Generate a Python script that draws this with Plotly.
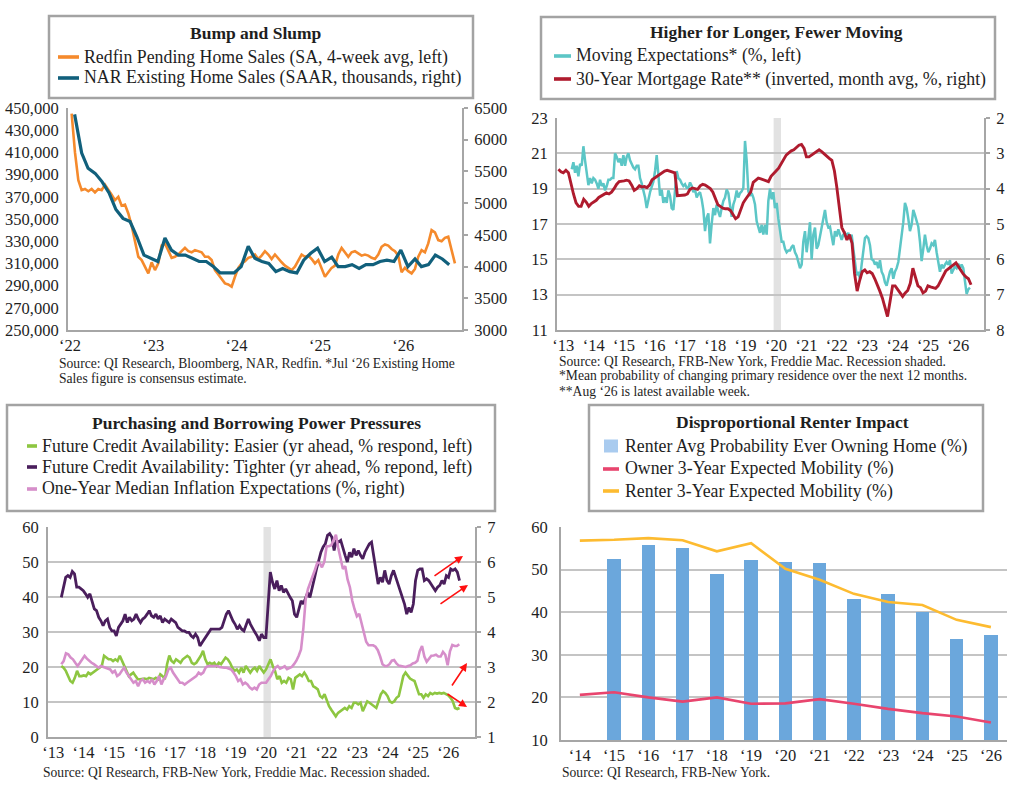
import pandas as pd
import plotly.graph_objects as go

W, H = 1024, 794
FONT = "Liberation Serif"
TEXT = "#1e1e1e"
AXIS_GRAY = "#A6A6A6"
GRID_GRAY = "#C4C4C4"
BOX_GRAY = "#A3A3A3"
Q = "\u2018"

# ---------------- Panel 1: Bump and Slump ----------------
redfin_pending = [
    445000, 410000, 385000, 376000, 377000, 375000, 377000, 374000, 377000, 376000,
    381000, 377000, 372000, 367000, 370000, 362000, 363000, 355000, 344000, 330000,
    316000, 313000, 307000, 301000, 311000, 304000, 310000, 326000, 328000, 322000,
    315000, 316000, 318000, 321000, 324000, 321000, 320000, 322000, 321000, 320000,
    316000, 316000, 313000, 304000, 300000, 296000, 292000, 291000, 289000, 298000,
    306000, 310000, 312000, 315000, 316000, 318000, 314000, 317000, 321000, 318000,
    314000, 318000, 314000, 311000, 308000, 306000, 304000, 307000, 313000, 318000,
    316000, 317000, 314000, 310000, 313000, 306000, 298000, 302000, 306000, 308000,
    318000, 324000, 320000, 316000, 320000, 321000, 319000, 317000, 318000, 317000,
    315000, 314000, 318000, 325000, 327000, 326000, 323000, 321000, 317000, 302000,
    306000, 303000, 301000, 305000, 316000, 322000, 320000, 328000, 340000, 338000,
    331000, 330000, 333000, 334000, 322000, 310000,
]
nar_existing = [
    6400, 5790, 5550, 5470, 5340, 5160, 4900, 4760, 4710, 4470,
    4180, 4130, 4080, 4450, 4260, 4180, 4180, 4130, 4080, 4080,
    4000, 3900, 3900, 3900, 4000, 4320, 4130, 4080, 4050, 3920,
    3970, 3920, 3900, 4100, 4210, 4290, 4080, 4150, 4000, 4000,
    4030, 3970, 4030, 4030, 4080, 4100, 4080, 4260, 4000, 4120,
    4000, 4030, 4180, 4120, 4030,
]
p1_years = [2022, 2023, 2024, 2025, 2026]

# ---------------- Panel 2: Higher for Longer ----------------
moving_expect = [
    20.1, 20.5, 19.9, 20.3, 19.7, 20.4, 20.3, 21.4, 20.6, 19.9,
    19.2, 19.6, 19.3, 19.6, 19.5, 19.3, 19.0, 19.5, 19.15, 19.3,
    18.9, 19.15, 19.5, 19.5, 19.6, 19.6, 21.0, 20.8, 20.5, 20.7,
    20.3, 20.9, 20.3, 20.8, 21.0, 20.6, 20.4, 20.2, 20.1, 20.3,
    20.3, 19.6, 19.3, 18.9, 18.5, 17.9, 18.4, 18.8, 19.1, 19.4,
    20.0, 20.9, 19.8, 18.6, 18.95, 18.2, 18.5, 18.2, 18.9, 18.6,
    17.9, 17.8, 18.9, 20.0, 19.6, 19.5, 19.3, 19.15, 19.25, 19.05,
    19.05, 19.35, 19.15, 18.8, 18.95, 18.5, 18.7, 18.8, 18.4, 17.8,
    16.6, 17.35, 17.6, 15.9, 17.0, 17.9, 17.5, 18.1, 17.7, 17.4,
    17.9, 18.3, 18.5, 18.95, 18.75, 17.9, 17.4, 18.1, 18.4, 18.9,
    18.5, 18.75, 18.85, 19.05, 21.7, 20.6, 18.85, 18.6, 18.75, 18.5,
    18.1, 17.15, 16.8, 16.5, 16.95, 16.4, 16.95, 16.4, 18.3, 19.0,
    18.4, 18.8, 17.9, 18.2, 17.3,
    16.6, 16.0, 16.0, 15.6, 15.4, 15.5, 15.5, 15.7, 15.8, 15.4,
    15.2, 14.8, 14.5, 14.7, 16.0, 16.6, 15.4, 16.2, 17.1, 15.0,
    16.4, 16.8, 15.6, 15.8, 16.4, 16.8, 17.3, 17.8, 17.1, 16.8,
    16.85, 16.2, 15.8, 16.6, 16.3, 16.7, 16.4, 16.1, 16.4, 16.5,
    16.3, 16.5, 16.1, 16.4, 15.6, 14.7, 14.1, 14.3, 13.9, 14.7,
    15.6, 16.2, 16.3, 16.2, 15.8, 15.0, 14.95, 14.7, 14.85, 14.5,
    14.95, 14.3, 14.1, 13.7, 13.5, 13.9, 14.3, 14.5, 13.9, 14.3,
    14.5, 14.85, 15.6, 16.4, 17.1, 18.2, 17.9, 17.3, 16.6, 16.95,
    17.8, 17.5, 17.2, 16.85, 16.0, 14.9, 15.6, 16.4, 15.8, 15.4,
    15.6, 15.9, 15.8, 16.1, 15.4, 14.7, 14.3, 14.7, 14.5, 14.7,
    14.85, 14.7, 14.95, 14.2, 14.4, 14.6, 14.5, 14.75, 14.5, 14.7,
    14.5, 13.8, 13.04, 13.3, 13.4,
]
mortgage_rate = [
    3.45, 3.52, 3.55, 3.48, 3.55, 3.9, 4.15, 4.4, 4.5, 4.5,
    4.3, 4.38, 4.5, 4.42, 4.38, 4.33, 4.25, 4.2, 4.15, 4.12,
    4.15, 4.1, 4.0, 3.88, 3.8, 3.8, 3.78, 3.76, 3.78, 3.9,
    4.05, 4.0, 3.92, 3.95, 3.94, 3.97, 3.9, 3.75, 3.7, 3.66,
    3.62, 3.56, 3.5, 3.48, 3.5, 3.52, 3.55, 4.2, 4.2, 4.2,
    4.18, 4.15, 4.02, 3.98, 4.0, 4.02, 3.92, 3.88, 3.9, 3.95,
    4.0, 4.1, 4.28, 4.45, 4.5, 4.55, 4.57, 4.57, 4.62, 4.75,
    4.85, 4.8, 4.6, 4.4, 4.3, 4.2, 4.1, 3.82, 3.75, 3.7,
    3.72, 3.74, 3.78, 3.8, 3.65, 3.56, 3.5, 3.42, 3.3, 3.18,
    3.05, 2.99, 2.93, 2.9, 2.82, 2.77, 2.75, 2.86, 3.1, 3.1,
    3.05, 3.0, 2.93, 2.9, 2.95, 3.02, 3.07, 3.14, 3.2, 3.5,
    3.95, 4.5, 5.1, 5.25, 5.45, 5.3, 5.55, 6.4, 6.9, 6.6,
    6.35, 6.3, 6.38, 6.35, 6.4, 6.55, 6.75, 6.9, 7.1, 7.35,
    7.62, 7.2, 6.75, 6.75, 6.85, 6.95, 7.05, 6.95, 6.88, 6.68,
    6.25, 6.5, 6.75, 6.8, 6.95, 6.9, 6.75, 6.78, 6.8, 6.82,
    6.75, 6.62, 6.45, 6.33, 6.27, 6.22, 6.16, 6.1, 6.2, 6.32,
    6.42, 6.5, 6.55, 6.72,
]
long_years = list(range(2013, 2027))

# ---------------- Panel 3: Purchasing and Borrowing Power ----------------
credit_tighter = [
    39.9, 43.3, 45.6, 46.1, 45.6, 47.3, 46.6, 42.8, 42.8, 42.3,
    41.8, 40.9, 39.9, 40.9, 38.9, 36.6, 36.1, 34.2, 33.2, 31.8,
    33.2, 33.7, 31.3, 30.3, 30.3, 28.9, 31.3, 32.2, 33.2, 35.1,
    32.7, 34.2, 33.2, 33.7, 35.1, 33.7, 32.7, 33.7, 34.2, 35.1,
    36.1, 34.6, 34.2, 35.1, 33.7, 34.6, 32.7, 33.7, 33.2, 32.7,
    33.7, 33.2, 32.7, 31.3, 30.8, 30.3, 30.3, 29.9, 29.9, 28.9,
    28.4, 29.4, 28.4, 26.0, 27.0, 27.9, 28.9, 29.9, 30.8, 30.8,
    30.8, 30.8, 30.8, 31.3, 33.2, 35.1, 36.1, 34.6, 33.2, 32.2,
    30.8, 31.8, 30.8, 30.3, 31.8, 33.7, 32.2, 30.8, 29.9, 28.9,
    27.5, 29.4, 28.4, 28.4, 38.9,
    47.1, 44.2, 42.3, 44.7, 41.8, 43.3, 41.3, 42.3, 40.9, 39.9,
    38.9, 35.1, 34.2, 37.0, 38.9, 38.0, 39.4, 41.3, 39.9, 42.3,
    45.2, 48.0, 50.4, 52.8, 54.3, 55.2, 57.6, 58.1, 57.1, 53.3,
    56.2, 55.7, 56.2, 53.8, 51.9, 50.0, 52.8, 51.4, 53.8, 51.9,
    53.3, 51.9, 50.9, 52.8, 53.8, 55.2, 55.7, 51.9, 48.0, 43.7,
    45.6, 44.2, 47.6, 44.7, 43.7, 46.1, 47.6, 45.6, 43.3, 41.8,
    39.9, 38.0, 35.1, 37.0, 35.6, 38.0, 44.7, 47.6, 48.0, 48.0,
    44.7, 45.2, 44.7, 43.7, 42.8, 41.8, 42.8, 43.3, 44.7, 43.7,
    46.1, 45.6, 48.0, 47.6, 48.0, 47.1, 44.7,
]
credit_easier = [
    20.3, 19.8, 18.9, 17.4, 16.0, 15.5, 16.9, 18.9, 17.4, 17.4,
    17.6, 17.4, 18.4, 17.9, 18.4, 18.9, 19.3, 19.8, 20.3, 23.2,
    22.7, 22.2, 22.2, 21.7, 22.2, 21.7, 23.2, 21.7, 20.3, 18.9,
    17.4, 17.9, 18.4, 17.4, 16.5, 16.5, 16.7, 16.7, 16.5, 16.9,
    16.7, 16.5, 16.9, 16.5, 17.9, 17.4, 16.5, 20.8, 23.3, 21.7,
    21.2, 22.2, 21.7, 21.2, 22.2, 22.7, 23.2, 22.7, 21.2, 20.8,
    21.2, 22.2, 23.2, 24.6, 22.2, 20.8, 21.2, 20.8, 21.2, 20.3,
    21.2, 20.8, 21.7, 22.7, 22.2, 21.2, 19.8, 18.9, 19.3, 18.4,
    19.8, 18.4, 20.3, 19.3, 18.4, 19.3, 19.8, 18.9, 20.3, 19.3,
    18.4, 19.3, 20.8, 22.2,
    20.3, 18.9, 16.5, 17.4, 15.5, 16.0, 15.5, 16.9, 16.5, 13.6,
    16.9, 17.4, 17.9, 17.4, 18.4, 17.4, 16.0, 16.0, 14.5, 14.1,
    13.6, 11.7, 11.2, 12.2, 10.2, 8.8, 7.8, 6.9, 5.9, 6.9,
    7.4, 7.8, 8.3, 7.8, 8.8, 8.3, 9.8, 9.8, 9.3, 9.8,
    7.4, 8.8, 10.2, 9.8, 9.3, 8.8, 8.3, 10.2, 12.2, 13.1,
    12.6, 11.7, 10.2, 9.8, 10.2, 11.2, 11.7, 14.5, 17.4, 18.4,
    17.4, 16.7, 16.3, 16.0, 14.1, 12.2, 12.2, 11.2, 12.2, 11.7,
    12.6, 12.2, 12.6, 12.4, 12.6, 12.4, 12.6, 12.2, 11.9, 11.2,
    10.2, 8.3, 8.0, 8.3,
]
inflation_expect = [
    3.08, 3.17, 3.39, 3.36, 3.27, 3.22, 3.12, 3.03, 3.12, 3.22,
    3.32, 3.24, 3.17, 3.12, 3.08, 3.03, 2.98, 3.03, 3.0, 2.98,
    2.95, 2.93, 2.84, 2.89, 2.74, 2.79, 2.89, 2.98, 2.84, 2.74,
    2.65, 2.55, 2.60, 2.45, 2.60, 2.65, 2.55, 2.60, 2.55, 2.65,
    2.50, 2.60, 2.74, 2.50, 2.65, 2.74, 2.93, 2.98, 2.84, 2.74,
    2.65, 2.55, 2.55, 2.50, 2.55, 2.60, 2.65, 2.69, 2.74, 2.84,
    2.79, 2.84, 2.98, 3.03, 3.03, 3.03, 3.03, 3.03, 3.0, 2.98,
    2.98, 2.98, 2.95, 2.93, 2.84, 2.74, 2.60, 2.65, 2.50, 2.55,
    2.50, 2.41, 2.36, 2.41, 2.36, 2.50, 2.55, 2.55, 2.55, 2.65,
    2.74, 2.88, 2.98, 3.03, 2.95, 2.98, 3.02, 2.94, 2.96, 3.0,
    3.08, 3.18, 3.32, 3.5, 4.1, 4.94, 5.23, 5.40, 5.62, 5.78,
    5.98, 5.97, 5.85, 6.0, 6.45, 6.45, 6.48, 6.65, 6.78, 6.40,
    6.10, 5.80, 5.88, 5.50, 5.28, 4.9, 4.65, 4.45, 4.52, 4.25,
    3.95, 3.72, 3.62, 3.63, 3.62, 3.58, 3.48, 3.3, 3.08, 3.03,
    3.03, 3.08, 3.18, 3.2, 3.1, 3.04, 3.03, 3.0, 3.0, 3.03,
    3.05, 3.1, 3.12, 3.18, 3.45, 3.60, 3.3, 3.15, 3.23, 3.32,
    3.33, 3.35, 3.3, 3.3, 3.43, 3.35, 3.05, 3.45, 3.63, 3.6,
    3.6, 3.65,
]

# ---------------- Panel 4: Disproportional Renter Impact ----------------
survey_years = [Q + str(y)[2:] for y in range(2014, 2027)]
renter_own_prob = [None, 52.6, 55.7, 55.0, 49.0, 52.3, 51.7, 51.5, 43.2, 44.3, 40.1, 33.8, 34.6]
owner_mobility = [20.6, 21.2, 20.0, 19.0, 20.0, 18.5, 18.6, 19.6, 18.5, 17.3, 16.3, 15.5, 14.1]
renter_mobility = [56.8, 57.0, 57.4, 56.9, 54.3, 56.2, 50.2, 47.6, 44.3, 42.4, 41.7, 38.2, 36.5]

# colours
ORANGE = "#F58A2C"
NAVY_TEAL = "#11607C"
AQUA = "#5CC6C6"
CRIMSON = "#AF1B2E"
GREEN = "#8DC641"
PURPLE = "#4A1E5C"
ORCHID = "#D68ECA"
BAR_BLUE = "#6BA7DC"
BAR_SWATCH = "#A9CBEF"
PINK = "#E8456E"
GOLD = "#FDBB30"
RECESSION = "#E2E2E2"


def px(x):
    return x / W


def py(y):
    return 1 - y / H


def yr_labels(years):
    return [Q + str(y)[2:] for y in years]


# x positions
redfin_dates = pd.date_range("2022-01-08", "2026-08-15", periods=len(redfin_pending))
nar_dates = pd.date_range("2022-01-01", periods=len(nar_existing), freq="MS") + pd.Timedelta(days=20)
mortgage_dates = pd.date_range("2013-01-01", periods=len(mortgage_rate), freq="MS")
moving_dates = pd.date_range("2013-06-10", "2026-07-19", periods=len(moving_expect))
tighter_dates = pd.date_range("2013-06-06", "2026-07-16", periods=len(credit_tighter))
easier_dates = pd.date_range("2013-06-06", "2026-07-16", periods=len(credit_easier))
infl_dates = pd.date_range("2013-06-06", "2026-07-13", periods=len(inflation_expect))

fig = go.Figure()

# panel 1
fig.add_trace(go.Scatter(x=redfin_dates, y=redfin_pending, mode="lines",
                         line=dict(color=ORANGE, width=2.6), xaxis="x", yaxis="y"))
fig.add_trace(go.Scatter(x=nar_dates, y=nar_existing, mode="lines",
                         line=dict(color=NAVY_TEAL, width=3.2), xaxis="x", yaxis="y2"))
# panel 2
fig.add_trace(go.Scatter(x=moving_dates, y=moving_expect, mode="lines",
                         line=dict(color=AQUA, width=2.5), xaxis="x2", yaxis="y3"))
fig.add_trace(go.Scatter(x=mortgage_dates, y=mortgage_rate, mode="lines",
                         line=dict(color=CRIMSON, width=2.9), xaxis="x2", yaxis="y4"))
# panel 3
fig.add_trace(go.Scatter(x=easier_dates, y=credit_easier, mode="lines",
                         line=dict(color=GREEN, width=2.6), xaxis="x3", yaxis="y5"))
fig.add_trace(go.Scatter(x=tighter_dates, y=credit_tighter, mode="lines",
                         line=dict(color=PURPLE, width=2.8), xaxis="x3", yaxis="y5"))
fig.add_trace(go.Scatter(x=infl_dates, y=inflation_expect, mode="lines",
                         line=dict(color=ORCHID, width=2.6), xaxis="x3", yaxis="y6"))
# panel 4
fig.add_trace(go.Bar(x=survey_years, y=renter_own_prob, marker=dict(color=BAR_BLUE, line_width=0),
                     width=0.39, xaxis="x4", yaxis="y7"))
fig.add_trace(go.Scatter(x=survey_years, y=owner_mobility, mode="lines",
                         line=dict(color=PINK, width=2.6), xaxis="x4", yaxis="y7"))
fig.add_trace(go.Scatter(x=survey_years, y=renter_mobility, mode="lines",
                         line=dict(color=GOLD, width=2.6), xaxis="x4", yaxis="y7"))

tickfont = dict(family=FONT, size=16.5, color=TEXT)
base_x = dict(showgrid=False, zeroline=False, showline=True, linecolor=AXIS_GRAY, linewidth=2,
              ticks="", tickfont=tickfont, automargin=False, ticklabelstandoff=-1)
base_y = dict(zeroline=False, showline=True, linecolor=AXIS_GRAY, linewidth=2, automargin=False,
              tickfont=tickfont, gridcolor=GRID_GRAY, gridwidth=1.6, ticklabelstandoff=4)
right_y = dict(zeroline=False, showline=True, linecolor=AXIS_GRAY, linewidth=2, showgrid=False,
               ticks="outside", ticklen=4, tickwidth=2, tickcolor=AXIS_GRAY, tickfont=tickfont,
               side="right", ticklabelstandoff=3, automargin=False)

fig.update_layout(
    width=W, height=H, margin=dict(l=0, r=0, t=0, b=0, autoexpand=False),
    paper_bgcolor="white", plot_bgcolor="white", showlegend=False,
    font=dict(family=FONT, color=TEXT),
    xaxis=dict(base_x, domain=[px(68), px(462)], anchor="y", type="date",
               range=["2021-12-23", "2026-09-15"],
               tickvals=[f"{y}-01-01" for y in p1_years], ticktext=yr_labels(p1_years)),
    yaxis=dict(base_y, domain=[py(330), py(108)], anchor="x", range=[250000, 450000],
               tick0=250000, dtick=20000, tickformat=",", showgrid=False),
    yaxis2=dict(right_y, overlaying="y", anchor="x", range=[3000, 6500], tick0=3000, dtick=500),
    xaxis2=dict(base_x, domain=[px(557), px(984)], anchor="y3", type="date",
                range=["2012-12-15", "2027-01-04"],
                tickvals=[f"{y}-03-01" for y in long_years], ticktext=yr_labels(long_years)),
    yaxis3=dict(base_y, domain=[py(330), py(118)], anchor="x2", range=[11, 23], tick0=11, dtick=2),
    yaxis4=dict(right_y, overlaying="y3", anchor="x2", range=[8, 2], tick0=2, dtick=1),
    xaxis3=dict(base_x, domain=[px(48), px(475)], anchor="y5", type="date",
                range=["2012-12-28", "2027-01-18"],
                tickvals=[f"{y}-03-01" for y in long_years], ticktext=yr_labels(long_years)),
    yaxis5=dict(base_y, domain=[py(737), py(527)], anchor="x3", range=[0, 60], tick0=0, dtick=10),
    yaxis6=dict(right_y, overlaying="y5", anchor="x3", range=[1, 7], tick0=1, dtick=1),
    xaxis4=dict(base_x, domain=[px(561), px(1007)], anchor="y7", type="category",
                range=[-0.55, 12.47]),
    yaxis7=dict(base_y, domain=[py(740), py(527)], anchor="x4", range=[10, 60], tick0=10, dtick=10,
                ticklabelstandoff=8),
    bargap=0,
)

# recession shading (Feb-Apr 2020)
for xr, yr in [("x2", "y3"), ("x3", "y5")]:
    fig.add_shape(type="rect", xref=xr, yref=f"{yr} domain", x0="2020-02-01", x1="2020-04-30",
                  y0=0, y1=1, fillcolor=RECESSION, line_width=0, layer="below")


def legend_box(box, title, title_x, title_y, items, sample_x, text_x):
    x0, y0, x1, y1 = box
    fig.add_shape(type="rect", xref="paper", yref="paper", x0=px(x0), x1=px(x1),
                  y0=py(y1), y1=py(y0), line=dict(color=BOX_GRAY, width=2.5),
                  fillcolor="white", layer="above")
    fig.add_annotation(text=f"<b>{title}</b>", x=px(title_x), y=py(title_y), xref="paper",
                       yref="paper", showarrow=False, xanchor="center", yanchor="middle",
                       font=dict(family=FONT, size=17.5, color=TEXT))
    for kind, color, label, yy in items:
        if kind == "line":
            fig.add_shape(type="line", xref="paper", yref="paper", x0=px(sample_x[0]),
                          x1=px(sample_x[1]), y0=py(yy), y1=py(yy),
                          line=dict(color=color, width=3.6))
        else:
            fig.add_shape(type="rect", xref="paper", yref="paper", x0=px(sample_x[0] + 1),
                          x1=px(sample_x[1] - 1), y0=py(yy + 6.5), y1=py(yy - 6.5),
                          fillcolor=color, line_width=0)
        fig.add_annotation(text=label, x=px(text_x), y=py(yy), xref="paper", yref="paper",
                           showarrow=False, xanchor="left", yanchor="middle", borderpad=0,
                           font=dict(family=FONT, size=17.8, color=TEXT))


legend_box((49, 16, 473, 98), "Bump and Slump", 256, 33, [
    ("line", ORANGE, "Redfin Pending Home Sales (SA, 4-week avg, left)", 57),
    ("line", NAVY_TEAL, "NAR Existing Home Sales (SAAR, thousands, right)", 78),
], (58, 79), 83)

legend_box((541, 17, 995, 99), "Higher for Longer, Fewer Moving", 776, 32, [
    ("line", AQUA, "Moving Expectations* (%, left)", 56),
    ("line", CRIMSON, "30-Year Mortgage Rate** (inverted, month avg, %, right)", 79),
], (554, 571), 575)

legend_box((7, 405, 495, 511), "Purchasing and Borrowing Power Pressures", 256, 423, [
    ("line", GREEN, "Future Credit Availability: Easier (yr ahead, % respond, left)", 446),
    ("line", PURPLE, "Future Credit Availability: Tighter (yr ahead, % repond, left)", 467),
    ("line", ORCHID, "One-Year Median Inflation Expectations (%, right)", 489),
], (27, 37), 41)

legend_box((589, 405, 983, 511), "Disproportional Renter Impact", 792, 422, [
    ("bar", BAR_SWATCH, "Renter Avg Probability Ever Owning Home (%)", 446),
    ("line", PINK, "Owner 3-Year Expected Mobility (%)", 469),
    ("line", GOLD, "Renter 3-Year Expected Mobility (%)", 491),
], (603, 619), 624)

# source notes
notes = [
    (58, 363, "Source: QI Research, Bloomberg, NAR, Redfin. *Jul " + Q + "26 Existing Home"),
    (58, 378, "Sales figure is consensus estimate."),
    (558, 361, "Source: QI Research, FRB-New York, Freddie Mac. Recession shaded."),
    (558, 376, "*Mean probability of changing primary residence over the next 12 months."),
    (558, 391, "**Aug " + Q + "26 is latest available week."),
    (42, 772, "Source: QI Research, FRB-New York, Freddie Mac. Recession shaded."),
    (561, 772, "Source: QI Research, FRB-New York."),
]
for nx, ny, txt in notes:
    fig.add_annotation(text=txt, x=px(nx), y=py(ny), xref="paper", yref="paper", showarrow=False,
                       xanchor="left", yanchor="middle", borderpad=0,
                       font=dict(family=FONT, size=13.6, color=TEXT))

# red trend arrows, panel 3
arrows = [(463, 556, -30, 21), (468, 585, -29, 20), (467, 663, -16, 24), (467, 707, -21, -14)]
for hx, hy, dx, dy in arrows:
    fig.add_annotation(x=px(hx), y=py(hy), xref="paper", yref="paper", ax=dx, ay=dy, text="",
                       showarrow=True, arrowhead=2, arrowsize=1, arrowwidth=1.6, arrowcolor="#FF1010")

# the page opens with the browser's default body margin; drop it so the chart sits at 0,0
fig.write_html("out.html", config={"displayModeBar": False},
               post_script="document.body.style.margin = '0px';")
